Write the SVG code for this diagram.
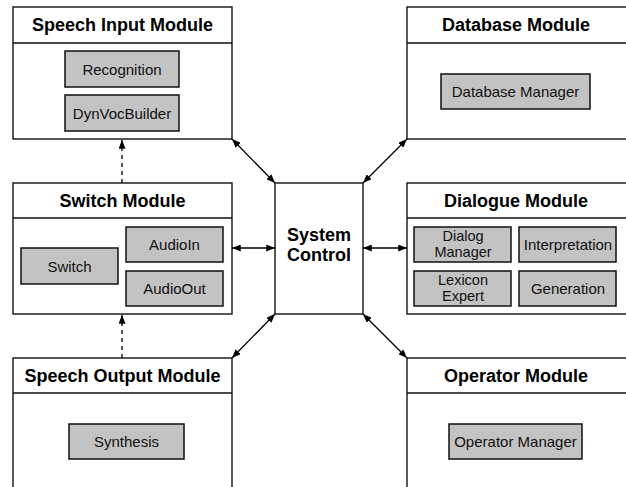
<svg xmlns="http://www.w3.org/2000/svg" width="626" height="487" viewBox="0 0 626 487">
<style>
.mod{fill:#fff;stroke:#111;stroke-width:1.4}
.sub{fill:#c3c3c3;stroke:#111;stroke-width:1.5}
.hd{font-family:"Liberation Sans",Arial,sans-serif;font-weight:bold;font-size:18px;fill:#000;text-anchor:middle}
.tx{font-family:"Liberation Sans",Arial,sans-serif;font-size:15px;fill:#111;text-anchor:middle}
.tx2{font-size:14.5px}
.con{stroke:#000;stroke-width:1.3;fill:none}
.dash{stroke-dasharray:4,4}
</style>
<defs>
<marker id="ah" viewBox="0 0 10 8" refX="10" refY="4" markerWidth="9" markerHeight="7" markerUnits="userSpaceOnUse" orient="auto-start-reverse">
<path d="M0,0 L10,4 L0,8 z" fill="#000"/>
</marker>
</defs>
<rect width="626" height="487" fill="#fff"/>

<g id="speech-input">
<rect class="mod" x="13" y="7" width="219" height="132"/>
<line class="mod" x1="13" y1="43" x2="232" y2="43"/>
<text class="hd" x="122.5" y="31">Speech Input Module</text>
<rect class="sub" x="65" y="51" width="114" height="36"/>
<text class="tx" x="122" y="74.5">Recognition</text>
<rect class="sub" x="65" y="95" width="114" height="36"/>
<text class="tx" x="122" y="118.5">DynVocBuilder</text>
</g>

<g id="database">
<rect class="mod" x="407" y="7" width="222" height="132"/>
<line class="mod" x1="407" y1="43" x2="629" y2="43"/>
<text class="hd" x="516" y="31">Database Module</text>
<rect class="sub" x="441" y="74" width="149" height="35"/>
<text class="tx" x="515.5" y="97">Database Manager</text>
</g>

<g id="switch">
<rect class="mod" x="13" y="183" width="219" height="131"/>
<line class="mod" x1="13" y1="218" x2="232" y2="218"/>
<text class="hd" x="122.5" y="207">Switch Module</text>
<rect class="sub" x="21" y="248" width="97" height="36"/>
<text class="tx" x="69.5" y="271.5">Switch</text>
<rect class="sub" x="126" y="227" width="97" height="35"/>
<text class="tx" x="174.5" y="250">AudioIn</text>
<rect class="sub" x="126" y="271" width="97" height="35"/>
<text class="tx" x="174.5" y="294">AudioOut</text>
</g>

<g id="system-control">
<rect class="mod" x="275" y="183" width="88" height="131"/>
<text class="hd" x="319" y="241">System</text>
<text class="hd" x="319" y="261">Control</text>
</g>

<g id="dialogue">
<rect class="mod" x="407" y="183" width="222" height="131"/>
<line class="mod" x1="407" y1="218" x2="629" y2="218"/>
<text class="hd" x="516" y="207">Dialogue Module</text>
<rect class="sub" x="414" y="227" width="97" height="35"/>
<text class="tx tx2" x="463" y="241">Dialog</text>
<text class="tx tx2" x="463" y="257">Manager</text>
<rect class="sub" x="519" y="227" width="97" height="35"/>
<text class="tx" x="568" y="250">Interpretation</text>
<rect class="sub" x="414" y="271" width="97" height="35"/>
<text class="tx tx2" x="463" y="285">Lexicon</text>
<text class="tx tx2" x="463" y="301">Expert</text>
<rect class="sub" x="519" y="271" width="97" height="35"/>
<text class="tx" x="568" y="294">Generation</text>
</g>

<g id="speech-output">
<rect class="mod" x="13" y="358" width="219" height="140"/>
<line class="mod" x1="13" y1="393" x2="232" y2="393"/>
<text class="hd" x="122.5" y="382">Speech Output Module</text>
<rect class="sub" x="69" y="424" width="115" height="35"/>
<text class="tx" x="126.5" y="447">Synthesis</text>
</g>

<g id="operator">
<rect class="mod" x="407" y="358" width="222" height="140"/>
<line class="mod" x1="407" y1="393" x2="629" y2="393"/>
<text class="hd" x="516" y="382">Operator Module</text>
<rect class="sub" x="449" y="424" width="133" height="35"/>
<text class="tx" x="515.5" y="447">Operator Manager</text>
</g>

<g id="connectors">
<line class="con" x1="232" y1="139" x2="275" y2="183" marker-start="url(#ah)" marker-end="url(#ah)"/>
<line class="con" x1="407" y1="139" x2="363" y2="183" marker-start="url(#ah)" marker-end="url(#ah)"/>
<line class="con" x1="232" y1="248" x2="275" y2="248" marker-start="url(#ah)" marker-end="url(#ah)"/>
<line class="con" x1="363" y1="248" x2="407" y2="248" marker-start="url(#ah)" marker-end="url(#ah)"/>
<line class="con" x1="275" y1="314" x2="232" y2="358" marker-start="url(#ah)" marker-end="url(#ah)"/>
<line class="con" x1="363" y1="314" x2="407" y2="358" marker-start="url(#ah)" marker-end="url(#ah)"/>
<line class="con dash" x1="122" y1="183" x2="122" y2="140" marker-end="url(#ah)"/>
<line class="con dash" x1="122" y1="358" x2="122" y2="315" marker-end="url(#ah)"/>
</g>
</svg>
